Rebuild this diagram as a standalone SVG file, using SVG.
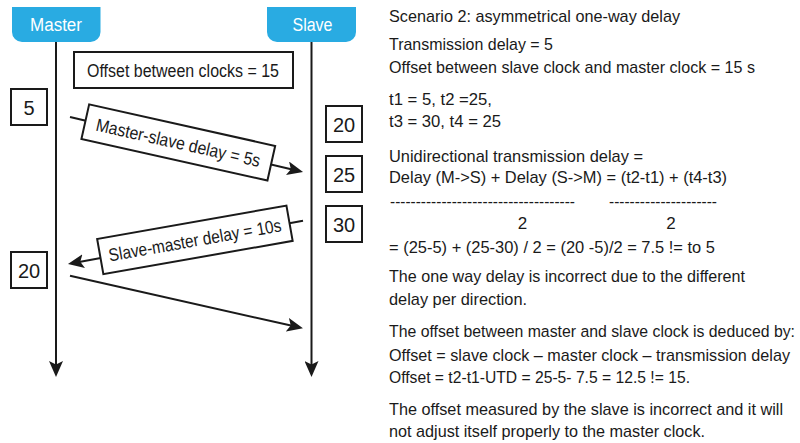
<svg xmlns="http://www.w3.org/2000/svg" width="800" height="443" viewBox="0 0 800 443">
<style>
.t{font-family:"Liberation Sans",Arial,sans-serif;font-size:17px;fill:#1a1a1a}
.hd{fill:#29abe2}
.hdt{font-family:"Liberation Sans",Arial,sans-serif;font-size:18px;fill:#fff;text-anchor:middle}
.box{fill:#fff;stroke:#1a1a1a;stroke-width:2}
.num{font-family:"Liberation Sans",Arial,sans-serif;font-size:20px;fill:#1a1a1a;text-anchor:middle}
.lbl{font-family:"Liberation Sans",Arial,sans-serif;font-size:18px;fill:#1a1a1a;text-anchor:middle}
.ln{stroke:#1a1a1a;stroke-width:2;fill:none;marker-end:url(#ah)}
</style>
<defs>
<marker id="ah" markerUnits="userSpaceOnUse" markerWidth="16" markerHeight="14" refX="6" refY="7" orient="auto" viewBox="0 0 16 14">
<path d="M0,0 L16,7 L0,14 L3.5,7 z" fill="#1a1a1a"/>
</marker>
</defs>
<rect width="800" height="443" fill="#fff"/>

<g id="master">
<path class="hd" d="M12,7 H100.5 V32 A10,10 0 0 1 90.5,42 H22 A10,10 0 0 1 12,32 Z"/>
<text class="hdt" x="56" y="31" textLength="52" lengthAdjust="spacingAndGlyphs">Master</text>
</g>
<g id="slave">
<path class="hd" d="M267,7 H356 V32 A10,10 0 0 1 346,42 H277 A10,10 0 0 1 267,32 Z"/>
<text class="hdt" x="312.5" y="31" textLength="40" lengthAdjust="spacingAndGlyphs">Slave</text>
</g>

<g id="offset-box">
<rect class="box" x="74" y="52" width="219" height="36"/>
<text class="lbl" x="183" y="77" textLength="192" lengthAdjust="spacingAndGlyphs">Offset between clocks = 15</text>
</g>

<g id="t-5">
<rect class="box" x="11" y="89" width="36" height="36"/>
<text class="num" x="29" y="114.5">5</text>
</g>
<g id="t-20s">
<rect class="box" x="326" y="106" width="36" height="36"/>
<text class="num" x="344" y="131.5">20</text>
</g>
<g id="t-25">
<rect class="box" x="326" y="156" width="36" height="36"/>
<text class="num" x="344" y="181.5">25</text>
</g>
<g id="t-30">
<rect class="box" x="326" y="206" width="36" height="36"/>
<text class="num" x="344" y="231.5">30</text>
</g>
<g id="t-20m">
<rect class="box" x="11" y="252" width="36" height="36"/>
<text class="num" x="29" y="277.5">20</text>
</g>

<g id="connectors">
<line class="ln" x1="56" y1="42" x2="56" y2="367"/>
<line class="ln" x1="311.5" y1="42" x2="311.5" y2="367"/>
<line class="ln" x1="70" y1="117" x2="293.3" y2="169.7"/>
<line class="ln" x1="303" y1="220.7" x2="77.8" y2="262.2"/>
<line class="ln" x1="70" y1="275.7" x2="293.2" y2="326.1"/>
</g>

<g id="label-ms" transform="translate(178.3,142.4) rotate(12.6)">
<rect class="box" x="-95.3" y="-17.7" width="190.6" height="35.4"/>
<text class="lbl" x="0" y="6.5" textLength="168" lengthAdjust="spacingAndGlyphs">Master-slave delay = 5s</text>
</g>
<g id="label-sm" transform="translate(194.9,239.9) rotate(-10)">
<rect class="box" x="-96.1" y="-17.9" width="192.2" height="35.8"/>
<text class="lbl" x="0" y="6.5" textLength="175" lengthAdjust="spacingAndGlyphs">Slave-master delay = 10s</text>
</g>

<g id="explanation">
<text class="t" x="389" y="21.7" textLength="291" lengthAdjust="spacingAndGlyphs">Scenario 2: asymmetrical one-way delay</text>
<text class="t" x="389" y="50" textLength="164" lengthAdjust="spacingAndGlyphs">Transmission delay = 5</text>
<text class="t" x="389" y="72.7" textLength="366" lengthAdjust="spacingAndGlyphs">Offset between slave clock and master clock = 15 s</text>
<text class="t" x="389" y="104.5" textLength="103" lengthAdjust="spacingAndGlyphs">t1 = 5, t2 =25,</text>
<text class="t" x="389" y="127" textLength="112" lengthAdjust="spacingAndGlyphs">t3 = 30, t4 = 25</text>
<text class="t" x="389" y="161.7" textLength="254" lengthAdjust="spacingAndGlyphs">Unidirectional transmission delay =</text>
<text class="t" x="389" y="183" textLength="338" lengthAdjust="spacingAndGlyphs">Delay (M-&gt;S) + Delay (S-&gt;M) = (t2-t1) + (t4-t3)</text>
<text class="t" x="390" y="206.5" textLength="185" lengthAdjust="spacingAndGlyphs">------------------------------------</text>
<text class="t" x="609" y="206.5" textLength="108" lengthAdjust="spacingAndGlyphs">---------------------</text>
<text class="t" x="522.5" y="229" text-anchor="middle">2</text>
<text class="t" x="671" y="229" text-anchor="middle">2</text>
<text class="t" x="389" y="252.5" textLength="326" lengthAdjust="spacingAndGlyphs">= (25-5) + (25-30) / 2 = (20 -5)/2 = 7.5 != to 5</text>
<text class="t" x="389" y="282" textLength="356" lengthAdjust="spacingAndGlyphs">The one way delay is incorrect due to the different</text>
<text class="t" x="389" y="305" textLength="138" lengthAdjust="spacingAndGlyphs">delay per direction.</text>
<g transform="translate(389,337) scale(1,1.16)">
<text class="t" x="0" y="0" style="font-size:14.6px" textLength="406" lengthAdjust="spacingAndGlyphs">The offset between master and slave clock is deduced by:</text>
</g>
<g transform="translate(389,360.5) scale(1,1.075)">
<text class="t" x="0" y="0" style="font-size:15.8px" textLength="401" lengthAdjust="spacingAndGlyphs">Offset = slave clock – master clock – transmission delay</text>
</g>
<text class="t" x="389" y="382.5" textLength="301" lengthAdjust="spacingAndGlyphs">Offset = t2-t1-UTD = 25-5- 7.5 = 12.5 != 15.</text>
<text class="t" x="389" y="415" textLength="394" lengthAdjust="spacingAndGlyphs">The offset measured by the slave is incorrect and it will</text>
<text class="t" x="389" y="436.5" textLength="316" lengthAdjust="spacingAndGlyphs">not adjust itself properly to the master clock.</text>
</g>
</svg>
